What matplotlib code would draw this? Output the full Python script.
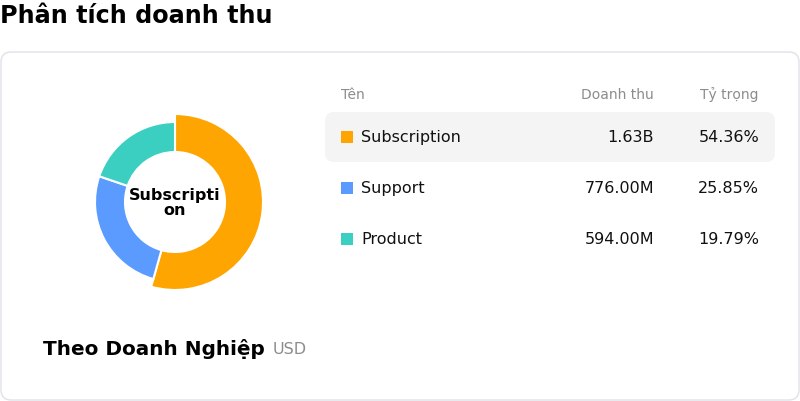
import matplotlib.pyplot as plt
from matplotlib.patches import FancyBboxPatch, Rectangle

# data
names = ['Subscription', 'Support', 'Product']
revenue = [1632, 776, 594]  # million USD
revenue_labels = ['1.63B', '776.00M', '594.00M']
colors = ['#FFA502', '#5B9BFF', '#3ACFC0']

total = sum(revenue)
shares = [v / total * 100 for v in revenue]

W, H = 800, 402
fig = plt.figure(figsize=(W / 100, H / 100), dpi=100)

# background axes in pixel coordinates
ax = fig.add_axes([0, 0, 1, 1])
ax.set_xlim(0, W)
ax.set_ylim(H, 0)
ax.axis('off')

ax.text(0, 16, 'Phân tích doanh thu', fontsize=17.2, fontweight='bold',
        va='center', ha='left', color='#000000')

card = FancyBboxPatch((1, 53), 798, 348, boxstyle='round,pad=0,rounding_size=10',
                      facecolor='white', edgecolor='#E0E0EA', linewidth=1)
ax.add_patch(card)

# highlighted first row
hl = FancyBboxPatch((325, 113), 450, 50, boxstyle='round,pad=0,rounding_size=9',
                    facecolor='#F4F4F4', edgecolor='none')
ax.add_patch(hl)

# table header
ax.text(341, 95, 'Tên', fontsize=10, color='#8C8C8C', va='center', ha='left')
ax.text(654, 95, 'Doanh thu', fontsize=10, color='#8C8C8C', va='center', ha='right')
ax.text(759, 95, 'Tỷ trọng', fontsize=10, color='#8C8C8C', va='center', ha='right')

row_y = [138, 189, 240]
for i, name in enumerate(names):
    y = row_y[i]
    ax.add_patch(Rectangle((341, y - 6), 12, 12, facecolor=colors[i], edgecolor='none'))
    ax.text(361, y, name, fontsize=11.5, color='#111111', va='center', ha='left')
    ax.text(654, y, revenue_labels[i], fontsize=11.5, color='#111111', va='center', ha='right')
    ax.text(759, y, f'{shares[i]:.2f}%', fontsize=11.5, color='#111111', va='center', ha='right')

# bottom caption
ax.text(43, 349, 'Theo Doanh Nghiệp', fontsize=14.4, fontweight='bold',
        va='center', ha='left', color='#000000')
ax.text(273, 350, 'USD', fontsize=11.5, va='center', ha='left', color='#8C8C8C')

# donut
cx, cy, r = 175, 203, 80
pax = fig.add_axes([(cx - 100) / W, (H - cy - 100) / H, 200 / W, 200 / H])
wedges, _ = pax.pie(revenue, colors=colors, startangle=90, counterclock=False,
                    radius=1.0,
                    wedgeprops=dict(width=30 / r, edgecolor='white', linewidth=1.5))
# emphasised slice
wedges[0].set_radius(88 / r)
wedges[0].set_width(38 / r)
pax.set_xlim(-1.25, 1.25)
pax.set_ylim(-1.25, 1.25)
pax.text(0, 0, 'Subscripti\non', ha='center', va='center', fontsize=11.5,
         fontweight='bold', linespacing=0.95, color='#000000')

fig.savefig('out.png', dpi=100)
